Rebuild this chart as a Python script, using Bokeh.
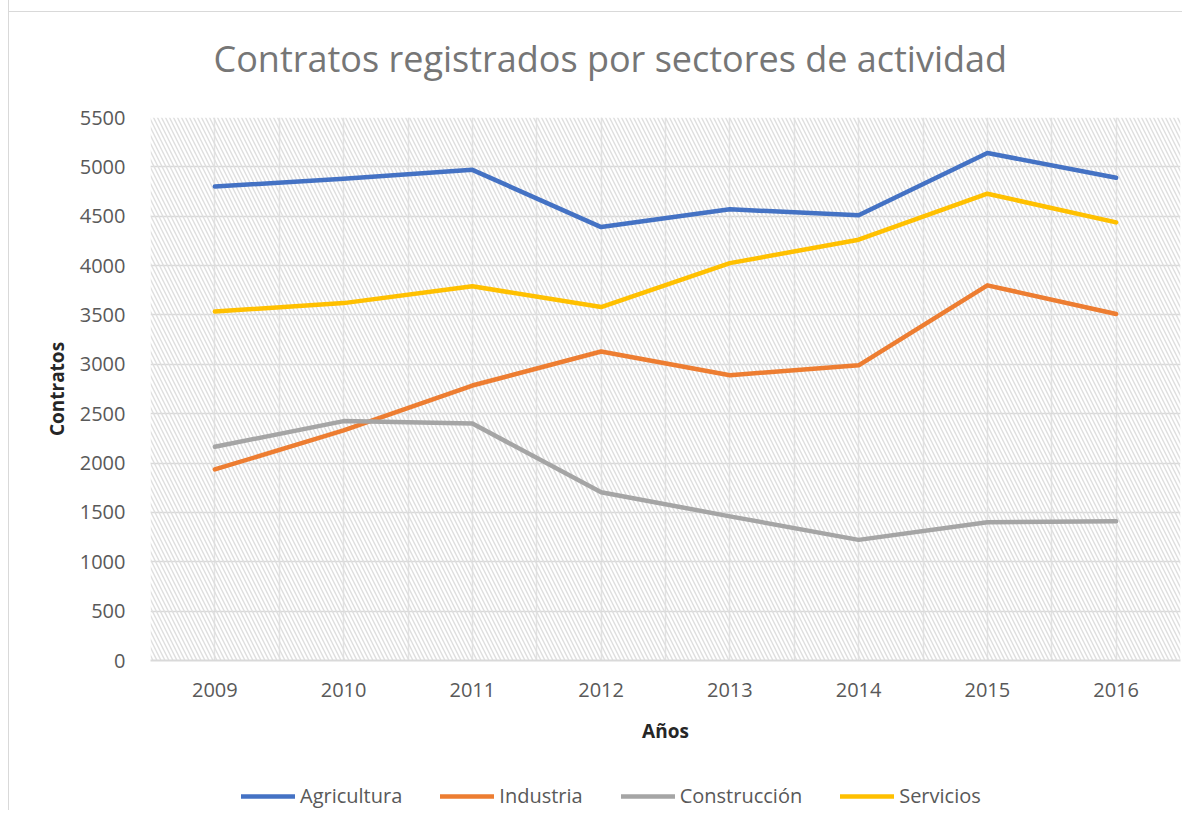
from bokeh.plotting import figure
from bokeh.layouts import column
from bokeh.models import (FixedTicker, Range1d, BoxAnnotation, Legend, LegendItem)
from bokeh.embed import file_html
from bokeh.resources import INLINE

# ---- data ----
years = [2009, 2010, 2011, 2012, 2013, 2014, 2015, 2016]
agricultura = [4800, 4880, 4970, 4390, 4570, 4510, 5140, 4890]
industria = [1935, 2330, 2785, 3130, 2890, 2990, 3800, 3510]
construccion = [2165, 2425, 2400, 1705, 1460, 1222, 1400, 1410]
servicios = [3535, 3620, 3790, 3580, 4025, 4262, 4728, 4438]
series_names = ["Agricultura", "Industria", "Construcción", "Servicios"]
series_colors = ["#4472C4", "#ED7D31", "#A5A5A5", "#FFC000"]
y_ticks = list(range(0, 5501, 500))
half_years = [y - 0.5 for y in years] + [years[-1] + 0.5]
all_series = [agricultura, industria, construccion, servicios]
title_text = "Contratos registrados por sectores de actividad"

FONT = "Open Sans"
W = 1173

# ---- title strip ----
tf = figure(width=W, height=90, output_backend="svg", toolbar_location=None,
            x_range=Range1d(0, 1), y_range=Range1d(0, 1),
            x_axis_location=None, y_axis_location=None,
            min_border=0, outline_line_color=None, title_location="below")
tf.grid.visible = False
tf.background_fill_alpha = 0
tf.border_fill_alpha = 0
tf.title.text = title_text
tf.title.text_font = FONT
tf.title.text_font_size = "36px"
tf.title.text_font_style = "normal"
tf.title.text_color = "#767676"
tf.title.align = "left"
tf.title.offset = 63
tf.title.standoff = 16

# ---- main chart ----
p = figure(width=W, height=670, output_backend="svg", toolbar_location=None,
           x_range=Range1d(2008.5, 2016.5), y_range=Range1d(0, 5500),
           min_border_left=141, min_border_right=2, min_border_top=27,
           min_border_bottom=100)
p.outline_line_color = None
p.background_fill_color = "white"
p.border_fill_alpha = 0

hatch = BoxAnnotation(fill_alpha=0, line_alpha=0, hatch_pattern="\\",
                      hatch_color="#dedede", hatch_scale=8, hatch_weight=1.4,
                      level="underlay")
p.add_layout(hatch)

xa = p.xaxis[0]
xa.ticker = FixedTicker(ticks=years)
xa.axis_line_color = "#d9d9d9"
xa.axis_line_width = 2
xa.major_tick_line_color = None
xa.minor_tick_line_color = None
xa.major_label_text_font = FONT
xa.major_label_text_font_size = "20px"
xa.major_label_text_color = "#595959"
xa.major_label_standoff = 16
xa.axis_label = "Años"
xa.axis_label_text_font = FONT
xa.axis_label_text_font_size = "19px"
xa.axis_label_text_font_style = "bold"
xa.axis_label_text_color = "#262626"
xa.axis_label_standoff = 18

ya = p.yaxis[0]
ya.ticker = FixedTicker(ticks=y_ticks)
ya.axis_line_color = None
ya.major_tick_line_color = None
ya.minor_tick_line_color = None
ya.major_label_text_font = FONT
ya.major_label_text_font_size = "20px"
ya.major_label_text_color = "#595959"
ya.major_label_standoff = 19
ya.axis_label = "Contratos"
ya.axis_label_text_font = FONT
ya.axis_label_text_font_size = "19px"
ya.axis_label_text_font_style = "bold"
ya.axis_label_text_color = "#262626"
ya.axis_label_standoff = 7

p.ygrid[0].ticker = FixedTicker(ticks=y_ticks)
p.ygrid[0].grid_line_color = "#d9d9d9"
p.ygrid[0].grid_line_width = 1.5
p.xgrid[0].ticker = FixedTicker(ticks=years, minor_ticks=half_years)
p.xgrid[0].grid_line_color = "#e3e3e3"
p.xgrid[0].grid_line_width = 1.5
p.xgrid[0].minor_grid_line_color = "#e3e3e3"
p.xgrid[0].minor_grid_line_width = 1.5

for name, vals, col in zip(series_names, all_series, series_colors):
    p.line(years, vals, line_color=col, line_width=4.5,
           line_cap="round", line_join="round")

# ---- legend strip ----
lf = figure(width=W, height=50, output_backend="svg", toolbar_location=None,
            x_range=Range1d(2008.5, 2016.5), y_range=Range1d(-2, -1),
            x_axis_location=None, y_axis_location=None,
            min_border=0, outline_line_color=None)
lf.grid.visible = False
lf.background_fill_alpha = 0
lf.border_fill_alpha = 0
items = []
for name, vals, col in zip(series_names, all_series, series_colors):
    r = lf.line(years, vals, line_color=col, line_width=4.5,
                line_cap="round", line_join="round")
    items.append(LegendItem(label=name, renderers=[r]))

legend = Legend(items=items, orientation="horizontal", location=(91, 1),
                glyph_width=54, glyph_height=20, label_standoff=5, spacing=38,
                padding=0, margin=0, border_line_color=None,
                background_fill_alpha=0,
                label_text_font=FONT, label_text_font_size="20px",
                label_text_color="#595959")
lf.add_layout(legend, "center")

layout = column(tf, p, lf, spacing=0)
layout.margin = (0, 0, 0, 8)
layout.styles = {
    "border-left": "1px solid #d9d9d9",
    "background": "linear-gradient(#d9d9d9, #d9d9d9) 0 11px / 100% 1px no-repeat",
}

open("out.html", "w").write(file_html(layout, INLINE))
